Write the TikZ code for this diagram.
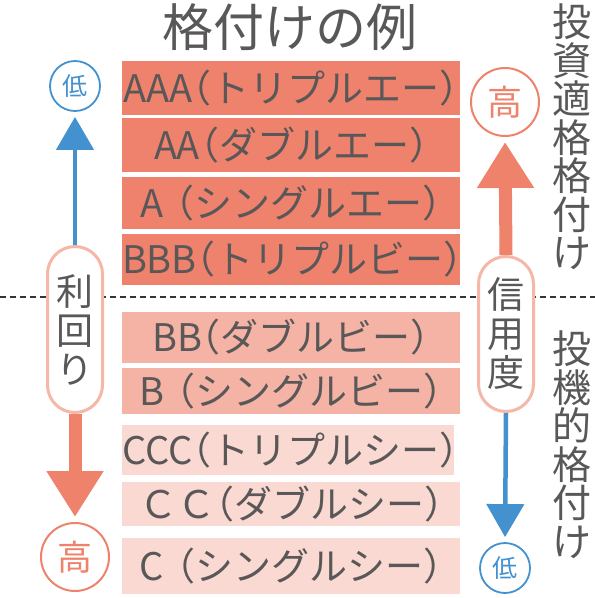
\documentclass[tikz,border=0pt]{standalone}
\usepackage{fontspec}
\setmainfont{Noto Sans CJK JP}
\newfontfamily\barfont{Noto Sans CJK JP}[RawFeature=+halt]
\usetikzlibrary{arrows.meta,backgrounds}
\definecolor{txtgray}{HTML}{595757}
\definecolor{barA}{HTML}{EF826D}
\definecolor{barB}{HTML}{F4B3A5}
\definecolor{barC}{HTML}{F9D9D1}
\definecolor{ublue}{HTML}{4391CF}
\definecolor{usalmon}{HTML}{EE826B}
\definecolor{upill}{HTML}{F5B7A8}
\tikzset{
  bar/.style={rectangle, inner sep=0pt, text width=338pt, align=center, text=txtgray,
    font=\barfont\fontsize{38}{38}\selectfont},
  pill/.style={rectangle, rounded corners=27.5pt, draw=upill, line width=3pt,
    fill=white, minimum width=55pt, inner sep=0pt, text=txtgray, align=center,
    font=\fontsize{37}{39}\selectfont},
  smallcirc/.style={circle, draw=ublue, line width=1.8pt, fill=white,
    minimum size=50pt, inner sep=0pt, text=ublue, font=\fontsize{25}{25}\selectfont},
  bigcirc/.style={circle, draw=usalmon, line width=2pt, fill=white,
    minimum size=68pt, inner sep=0pt, text=usalmon, font=\fontsize{35}{35}\selectfont},
  vtext/.style={align=center, text=txtgray, inner sep=0pt,
    font=\fontsize{39}{38.5}\selectfont},
  thinarrow/.style={draw=ublue, line width=4.5pt,
    -{Triangle[width=37pt,length=33pt]}, shorten >=5pt},
  thickarrow/.style={draw=usalmon, line width=13pt,
    -{Triangle[width=54pt,length=46pt]}, shorten >=5pt},
  divider/.style={draw=black!80, line width=2pt, dash pattern=on 6pt off 4pt}
}
\begin{document}
\begin{tikzpicture}[x=1pt,y=-1pt]
\useasboundingbox (0,0) rectangle (595,598);

% title
\node[text=txtgray, font=\fontsize{51}{51}\selectfont] (title) at (290,27) {格付けの例};

% divider
\coordinate (dl) at (0,297);
\coordinate (dr) at (595,297);
\draw[divider] (dl) -- (dr);

% bars
\node[bar, fill=barA, minimum height=54pt] (b1) at (291,88) {AAA（トリプルエー）};
\node[bar, fill=barA, minimum height=54pt] (b2) at (291,145) {AA（ダブルエー）};
\node[bar, fill=barA, minimum height=52pt] (b3) at (291,203) {A （シングルエー）};
\node[bar, fill=barA, minimum height=51pt] (b4) at (291,259.5) {BBB（トリプルビー）};
\node[bar, fill=barB, minimum height=51pt] (b5) at (291,337.5) {BB（ダブルビー）};
\node[bar, fill=barB, minimum height=46pt] (b6) at (291,391) {B （シングルビー）};
\node[bar, fill=barC, minimum height=50pt, text width=332pt] (b7) at (288,450) {CCC（トリプルシー）};
\node[bar, fill=barC, minimum height=44pt] (b8) at (291,504) {ＣＣ（ダブルシー）};
\node[bar, fill=barC, minimum height=56pt] (b9) at (291,566) {C （シングルシー）};

% right vertical labels
\node[vtext] (inv) at (572,137) {投\\資\\適\\格\\格\\付\\け};
\node[vtext] (spec) at (572,445) {投\\機\\的\\格\\付\\け};

% left pill and circles
\node[pill, minimum height=166pt] (yield) at (75,329.5) {利\\回\\り};
\node[smallcirc] (lowL) at (75,86) {低};
\node[bigcirc] (highL) at (75,557) {高};

% right pill and circles
\node[pill, minimum height=155pt] (credit) at (506,334) {信\\用\\度};
\node[bigcirc] (highR) at (505,102) {高};
\node[smallcirc] (lowR) at (505,568) {低};

\begin{pgfonlayer}{background}
\draw[thinarrow] (yield.north) -- (lowL.south);
\draw[thickarrow] (yield.south) -- (highL.north);
\draw[thickarrow] (credit.north) -- (highR.south);
\draw[thinarrow] (credit.south) -- (lowR.north);
\end{pgfonlayer}
\end{tikzpicture}
\end{document}
